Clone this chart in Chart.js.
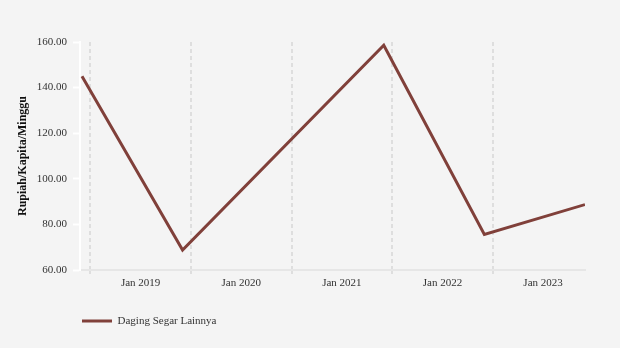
<!DOCTYPE html>
<html>
<head>
<meta charset="utf-8">
<script src="https://cdn.jsdelivr.net/npm/chart.js@4.4.1/dist/chart.umd.min.js"></script>
<style>
  html, body { margin: 0; padding: 0; background: #f4f4f4; }
  #wrap { width: 620px; height: 348px; }
</style>
</head>
<body>
<div id="wrap"><canvas id="chart" width="620" height="348"></canvas></div>
<script>
// Annual survey points (recorded in December of each year)
const years = [2018, 2019, 2021, 2022, 2023];
const values = [145.0, 68.8, 158.6, 75.6, 88.7];
const seriesName = 'Daging Segar Lainnya';

// Year boundaries carrying the dashed grid, and the labels between them
const gridYears = [2019, 2020, 2021, 2022, 2023];
const tickLabels = ['Jan 2019', 'Jan 2020', 'Jan 2021', 'Jan 2022', 'Jan 2023'];

const yTicks = [60, 80, 100, 120, 140, 160];

const LINE_COLOR = '#80403a';
const GRID_COLOR = '#dedede';
const TEXT_COLOR = '#333333';

Chart.defaults.font.family = "'Liberation Serif', 'Times New Roman', serif";
Chart.defaults.font.size = 11;
Chart.defaults.color = TEXT_COLOR;

const points = years.map((y, i) => ({ x: y + 11 / 12, y: values[i] }));
const isGridTick = v => Math.abs(v - Math.round(v)) < 1e-6;

new Chart(document.getElementById('chart'), {
  type: 'line',
  data: {
    datasets: [{
      label: seriesName,
      data: points,
      borderColor: LINE_COLOR,
      backgroundColor: LINE_COLOR,
      borderWidth: 3,
      pointRadius: 0,
      tension: 0,
      fill: false
    }]
  },
  options: {
    responsive: false,
    animation: false,
    layout: { padding: { top: 42, right: 35, bottom: 11.5, left: 0 } },
    scales: {
      x: {
        type: 'linear',
        min: 2018.897,
        max: 2023.917,
        afterBuildTicks: scale => {
          scale.ticks = gridYears.flatMap(y => [{ value: y }, { value: y + 0.5 }]);
        },
        afterFit: scale => { scale.height = 43.5; },
        ticks: {
          autoSkip: false,
          maxRotation: 0,
          padding: 3,
          color: TEXT_COLOR,
          callback: value => {
            if (isGridTick(value)) return '';
            const idx = gridYears.indexOf(Math.floor(value));
            return idx >= 0 ? tickLabels[idx] : '';
          }
        },
        grid: {
          lineWidth: 2,
          color: ctx => isGridTick(ctx.tick.value) ? GRID_COLOR : 'rgba(0,0,0,0)',
          tickColor: ctx => isGridTick(ctx.tick.value) ? GRID_COLOR : 'rgba(0,0,0,0)',
          tickLength: 4,
          tickWidth: 2,
          tickBorderDash: [4, 3]
        },
        border: { display: true, color: '#e6e6e6', width: 2, dash: [4, 3] }
      },
      y: {
        min: 60,
        max: 160,
        afterBuildTicks: scale => {
          scale.ticks = yTicks.map(v => ({ value: v }));
        },
        afterFit: scale => { scale.width = 80; },
        ticks: {
          padding: 6,
          color: TEXT_COLOR,
          callback: value => Number(value).toFixed(2)
        },
        grid: {
          drawOnChartArea: false,
          color: '#ffffff',
          tickColor: '#ffffff',
          tickLength: 7,
          tickWidth: 2
        },
        border: { display: true, color: '#ffffff', width: 2 },
        title: {
          display: true,
          text: 'Rupiah/Kapita/Minggu',
          color: '#111111',
          font: { size: 12, weight: 'bold' },
          padding: { top: 16, bottom: 0 }
        }
      }
    },
    plugins: {
      tooltip: { enabled: false },
      legend: {
        position: 'bottom',
        align: 'start',
        fullSize: false,
        labels: {
          boxWidth: 30,
          boxHeight: 3,
          padding: 2,
          color: TEXT_COLOR,
          font: { size: 11 },
          generateLabels: chart => {
            const items = Chart.defaults.plugins.legend.labels.generateLabels(chart);
            items.forEach(it => { it.lineWidth = 0; it.fillStyle = LINE_COLOR; });
            return items;
          }
        }
      }
    }
  }
});
</script>
</body>
</html>
